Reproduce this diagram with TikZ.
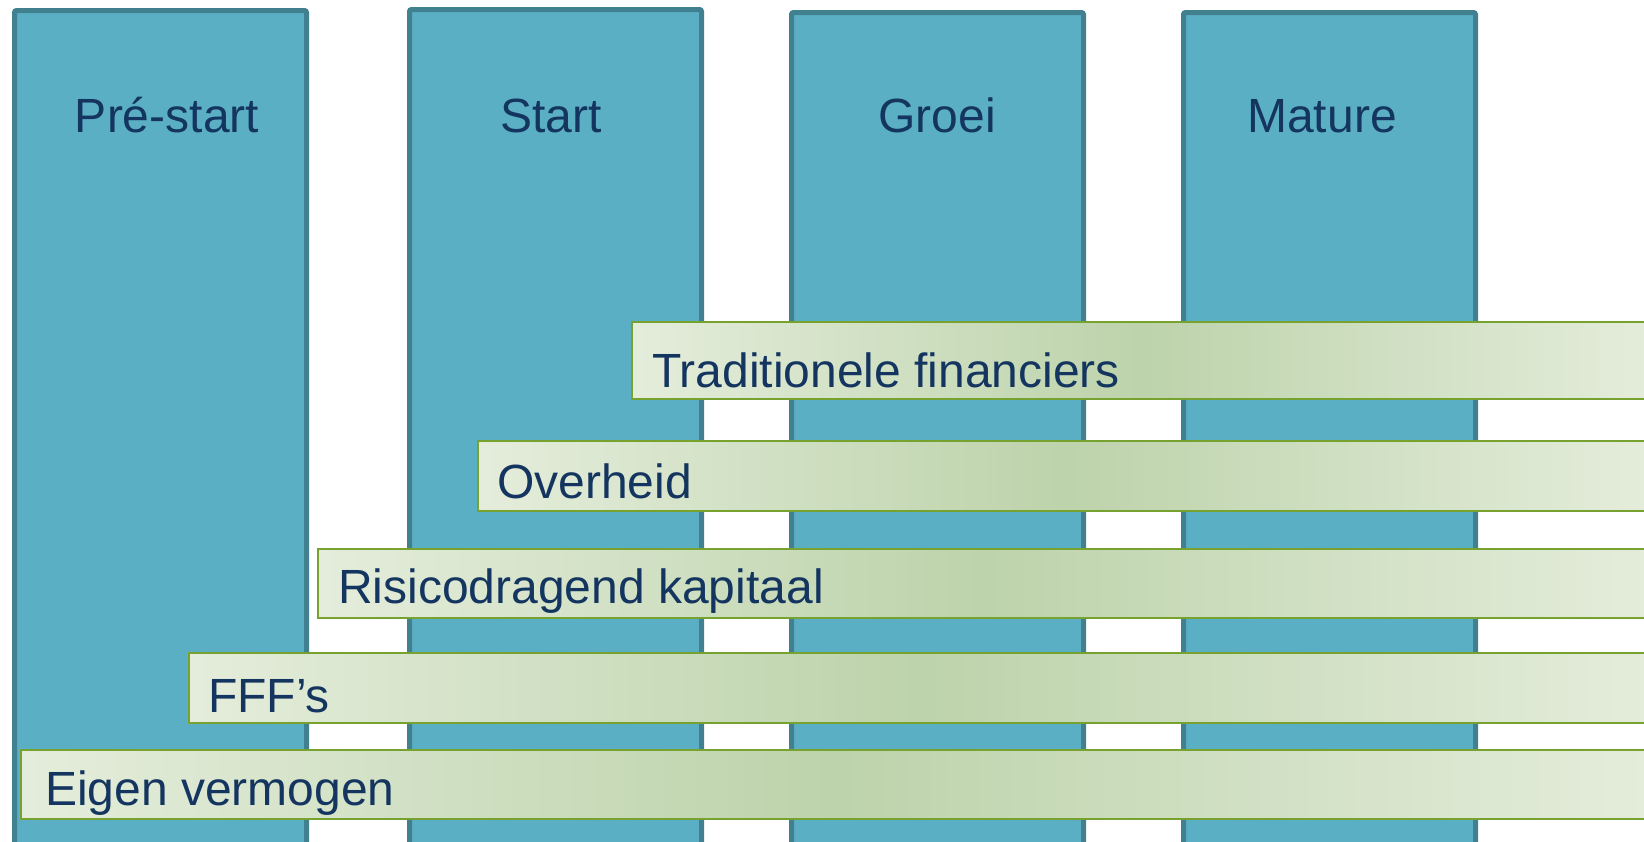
\documentclass[tikz,border=0pt]{standalone}
\usepackage{fontspec}
\setmainfont{Liberation Sans}
\definecolor{colfill}{HTML}{5AAFC5}
\definecolor{coldraw}{HTML}{41808F}
\definecolor{barlight}{HTML}{E4EDDB}
\definecolor{bardark}{HTML}{BDD3AB}
\definecolor{bardraw}{HTML}{77A22F}
\definecolor{txt}{HTML}{14355F}
\tikzset{
  phase/.style={draw=coldraw, fill=colfill, line width=5pt, rounded corners=2pt,
    anchor=north west, inner sep=0pt, outer sep=0pt, minimum width=292pt, minimum height=840pt},
  bar/.style={draw=bardraw, line width=2pt, anchor=north west, inner sep=0pt, outer sep=0pt,
    left color=barlight, right color=barlight, middle color=bardark},
  ttl/.style={anchor=base, text=txt, inner sep=0pt, font=\fontsize{48}{57}\selectfont},
  lbl/.style={anchor=base west, text=txt, inner sep=0pt, font=\fontsize{48}{57}\selectfont}
}
\begin{document}
\begin{tikzpicture}[x=1pt,y=-1pt]
\useasboundingbox (0,0) rectangle (1644,841);
\node[phase] (c1) at (14.5,10.5) {};
\node[phase] (c2) at (409.5,9.5) {};
\node[phase] (c3) at (791.5,12.5) {};
\node[phase] (c4) at (1183.5,12.5) {};
\node[ttl] (t1) at (167,132) {Pré-start};
\node[ttl] (t2) at (551,132) {Start};
\node[ttl] (t3) at (937,132) {Groei};
\node[ttl] (t4) at (1322,132) {Mature};
\node[bar, minimum width=1020pt, minimum height=77pt] (b1) at (632,322) {};
\node[bar, minimum width=1174pt, minimum height=70pt] (b2) at (478,441) {};
\node[bar, minimum width=1334pt, minimum height=69pt] (b3) at (318,549) {};
\node[bar, minimum width=1463pt, minimum height=70pt] (b4) at (189,653) {};
\node[bar, minimum width=1631pt, minimum height=69pt] (b5) at (21,750) {};
\node[lbl] (l1) at (652,387) {Traditionele financiers};
\node[lbl] (l2) at (497,498) {Overheid};
\node[lbl] (l3) at (338,603) {Risicodragend kapitaal};
\node[lbl] (l4) at (208,712) {FFF’s};
\node[lbl] (l5) at (45,805) {Eigen vermogen};
\end{tikzpicture}
\end{document}
